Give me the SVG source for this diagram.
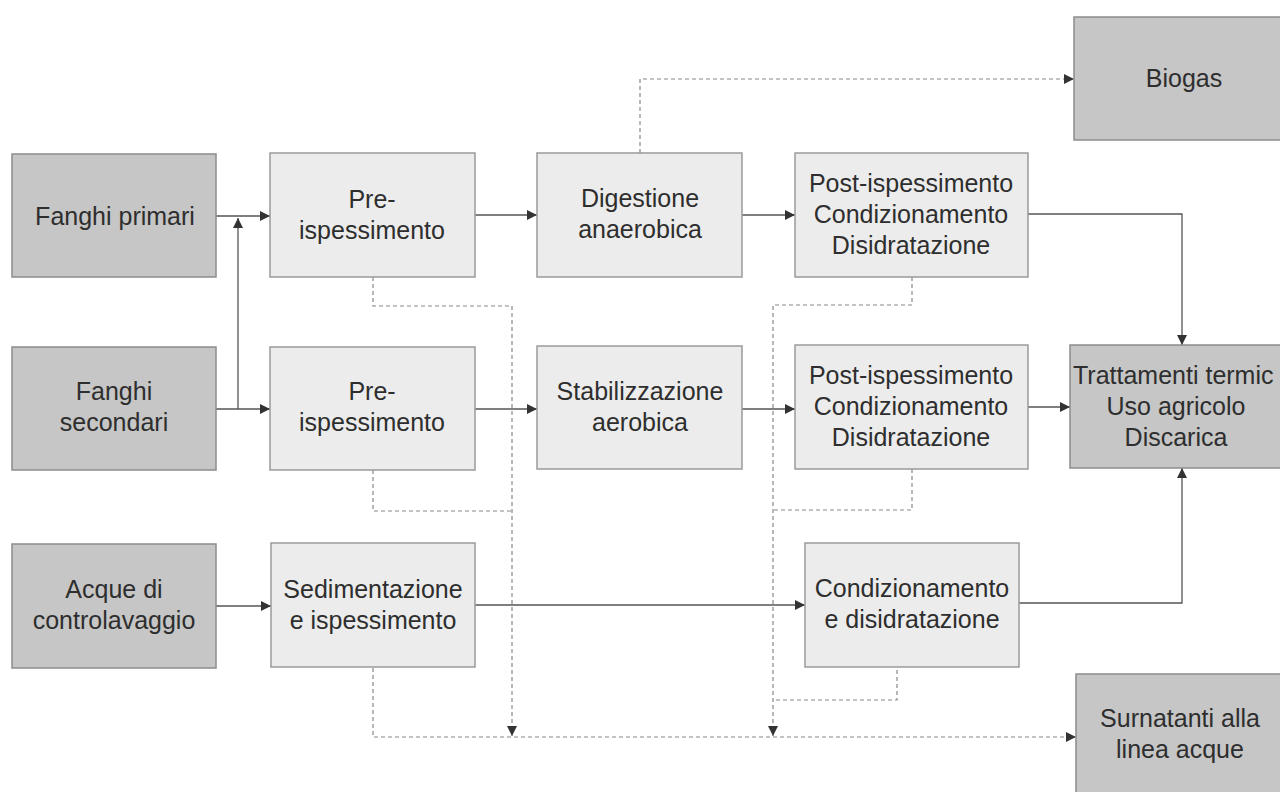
<svg xmlns="http://www.w3.org/2000/svg" width="1280" height="792" viewBox="0 0 1280 792">
<style>
.dark{fill:#c6c6c6;stroke:#8c8c8c;stroke-width:1.5}
.light{fill:#ececec;stroke:#9a9a9a;stroke-width:1.5}
text{font-family:"Liberation Sans",Arial,sans-serif;font-size:25px;fill:#2e2e2e;text-anchor:middle}
.solid{fill:none;stroke:#555;stroke-width:1.3}
.dash{fill:none;stroke:#888;stroke-width:1.2;stroke-dasharray:4 3}
</style>
<defs>
<marker id="ah" viewBox="0 0 10 10" refX="10" refY="5" markerWidth="10" markerHeight="11" markerUnits="userSpaceOnUse" orient="auto">
<path d="M0,0 L10,5 L0,10 z" fill="#333"/>
</marker>
</defs>
<rect width="1280" height="792" fill="#ffffff"/>

<g id="connectors">
<path class="solid" d="M216,216 H270" marker-end="url(#ah)"/>
<path class="solid" d="M216,409 H270" marker-end="url(#ah)"/>
<path class="solid" d="M238,409 V218" marker-end="url(#ah)"/>
<path class="solid" d="M475,215 H537" marker-end="url(#ah)"/>
<path class="solid" d="M742,215 H795" marker-end="url(#ah)"/>
<path class="solid" d="M1028,214 H1182 V345" marker-end="url(#ah)"/>
<path class="solid" d="M475,409 H537" marker-end="url(#ah)"/>
<path class="solid" d="M742,409 H795" marker-end="url(#ah)"/>
<path class="solid" d="M1028,407 H1070" marker-end="url(#ah)"/>
<path class="solid" d="M216,606 H271" marker-end="url(#ah)"/>
<path class="solid" d="M475,605 H805" marker-end="url(#ah)"/>
<path class="solid" d="M1019,603 H1182 V468" marker-end="url(#ah)"/>
<path class="dash" d="M640,153 V79 H1074" marker-end="url(#ah)"/>
<path class="dash" d="M373,277 V306 H512 V736" marker-end="url(#ah)"/>
<path class="dash" d="M373,470 V511 H512"/>
<path class="dash" d="M912,277 V305 H773 V736" marker-end="url(#ah)"/>
<path class="dash" d="M912,469 V510 H773"/>
<path class="dash" d="M897,670 V700 H773"/>
<path class="dash" d="M373,668 V737 H1076" marker-end="url(#ah)"/>
</g>

<g id="biogas"><rect class="dark" x="1074" y="17" width="215" height="123"/><text x="1184" y="87">Biogas</text></g>

<g id="fanghi-primari"><rect class="dark" x="12" y="154" width="204" height="123"/><text x="115" y="225">Fanghi primari</text></g>
<g id="pre-ispessimento-1"><rect class="light" x="270" y="153" width="205" height="124"/><text x="372" y="208">Pre-</text><text x="372" y="239">ispessimento</text></g>
<g id="digestione"><rect class="light" x="537" y="153" width="205" height="124"/><text x="640" y="207">Digestione</text><text x="640" y="238">anaerobica</text></g>
<g id="post-1"><rect class="light" x="795" y="153" width="233" height="124"/><text x="911" y="192">Post-ispessimento</text><text x="911" y="223">Condizionamento</text><text x="911" y="254">Disidratazione</text></g>

<g id="fanghi-secondari"><rect class="dark" x="12" y="347" width="204" height="123"/><text x="114" y="400">Fanghi</text><text x="114" y="431">secondari</text></g>
<g id="pre-ispessimento-2"><rect class="light" x="270" y="347" width="205" height="123"/><text x="372" y="400">Pre-</text><text x="372" y="431">ispessimento</text></g>
<g id="stabilizzazione"><rect class="light" x="537" y="346" width="205" height="123"/><text x="640" y="400">Stabilizzazione</text><text x="640" y="431">aerobica</text></g>
<g id="post-2"><rect class="light" x="795" y="345" width="233" height="124"/><text x="911" y="384">Post-ispessimento</text><text x="911" y="415">Condizionamento</text><text x="911" y="446">Disidratazione</text></g>
<g id="trattamenti"><rect class="dark" x="1070" y="345" width="220" height="123"/><text x="1073" y="384" style="text-anchor:start">Trattamenti termic</text><text x="1176" y="415">Uso agricolo</text><text x="1176" y="446">Discarica</text></g>

<g id="acque"><rect class="dark" x="12" y="544" width="204" height="124"/><text x="114" y="598">Acque di</text><text x="114" y="629">controlavaggio</text></g>
<g id="sedimentazione"><rect class="light" x="271" y="543" width="204" height="124"/><text x="373" y="598">Sedimentazione</text><text x="373" y="629">e ispessimento</text></g>
<g id="condizionamento"><rect class="light" x="805" y="543" width="214" height="124"/><text x="912" y="597">Condizionamento</text><text x="912" y="628">e disidratazione</text></g>
<g id="surnatanti"><rect class="dark" x="1076" y="674" width="215" height="125"/><text x="1180" y="727">Surnatanti alla</text><text x="1180" y="758">linea acque</text></g>
</svg>
